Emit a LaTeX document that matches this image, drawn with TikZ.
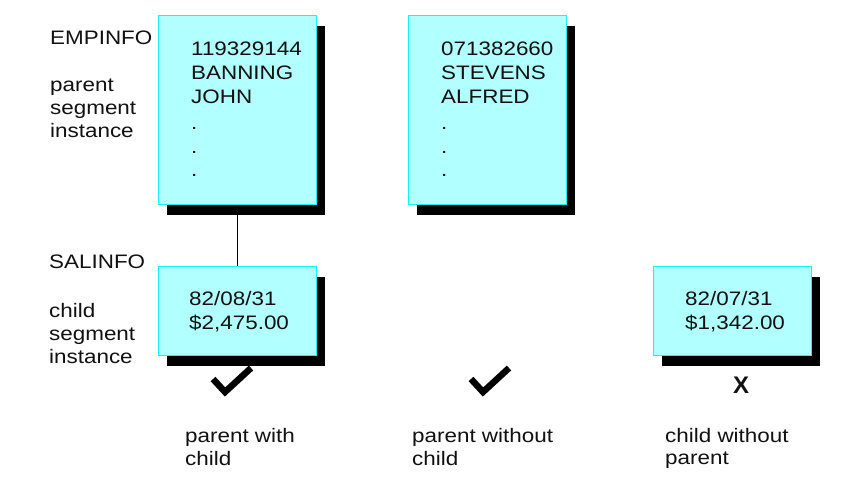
\documentclass[tikz,border=0pt]{standalone}
\usepackage{fontspec}
\setmainfont{Liberation Sans}[FakeStretch=1.15]
\newfontfamily\xfont{Liberation Sans}
\usetikzlibrary{shadows}
\definecolor{boxfill}{HTML}{B2FFFF}
\definecolor{boxline}{HTML}{22F0F0}
\definecolor{textc}{HTML}{111111}
\tikzset{
  segbox/.style={draw=boxline, line width=1.3pt, fill=boxfill, anchor=north west,
    inner sep=0pt, minimum width=158pt,
    drop shadow={shadow xshift=8pt, shadow yshift=-10pt, fill=black, opacity=1}},
  txt/.style={anchor=base west, inner sep=0pt, text=textc,
    font=\fontsize{19.5}{24}\selectfont},
  bigx/.style={anchor=base, inner sep=0pt, text=textc,
    font=\xfont\bfseries\fontsize{24}{28}\selectfont},
  tick/.style={line width=6.5pt, black},
  link/.style={line width=1.3pt, black}
}
\begin{document}
\begin{tikzpicture}[x=1pt, y=-1pt]
\useasboundingbox[fill=white] (0,0) rectangle (842,486);

% boxes
\node[segbox, minimum height=189pt] (emp) at (158,15) {};
\node[segbox, minimum height=189pt] (stv) at (408,15) {};
\node[segbox, minimum height=89pt] (sal) at (158,266) {};
\node[segbox, minimum height=89pt] (orph) at (653,266) {};

% connector
\draw[link] (emp.south) -- (sal.north);

% left labels
\node[txt] (l1) at (50,45) {EMPINFO};
\node[txt] (l2) at (50,92) {parent};
\node[txt] (l3) at (50,115) {segment};
\node[txt] (l4) at (50,138) {instance};
\node[txt] (l5) at (49,268) {SALINFO};
\node[txt] (l6) at (49,317) {child};
\node[txt] (l7) at (49,340) {segment};
\node[txt] (l8) at (49,363) {instance};

% box 1 text
\node[txt] (a1) at (191,56) {119329144};
\node[txt] (a2) at (191,80) {BANNING};
\node[txt] (a3) at (191,104) {JOHN};
\node[txt] (a4) at (191,130) {.};
\node[txt] (a5) at (191,154) {.};
\node[txt] (a6) at (191,177) {.};

% box 2 text
\node[txt] (b1) at (441,56) {071382660};
\node[txt] (b2) at (441,80) {STEVENS};
\node[txt] (b3) at (441,104) {ALFRED};
\node[txt] (b4) at (441,130) {.};
\node[txt] (b5) at (441,154) {.};
\node[txt] (b6) at (441,177) {.};

% box 3 text
\node[txt] (c1) at (189,305) {82/08/31};
\node[txt] (c2) at (189,329) {\$2,475.00};

% box 4 text
\node[txt] (d1) at (685,305) {82/07/31};
\node[txt] (d2) at (685,329) {\$1,342.00};

% marks
\draw[tick] (213,379) -- (225,392) -- (251,368);
\draw[tick] (471,379) -- (483,392) -- (509,368);
\node[bigx] (xm) at (741,393) {X};

% bottom captions
\node[txt] (p1) at (185,442) {parent with};
\node[txt] (p2) at (185,465) {child};
\node[txt] (q1) at (412,442) {parent without};
\node[txt] (q2) at (412,465) {child};
\node[txt] (r1) at (665,442) {child without};
\node[txt] (r2) at (665,464) {parent};
\end{tikzpicture}
\end{document}
